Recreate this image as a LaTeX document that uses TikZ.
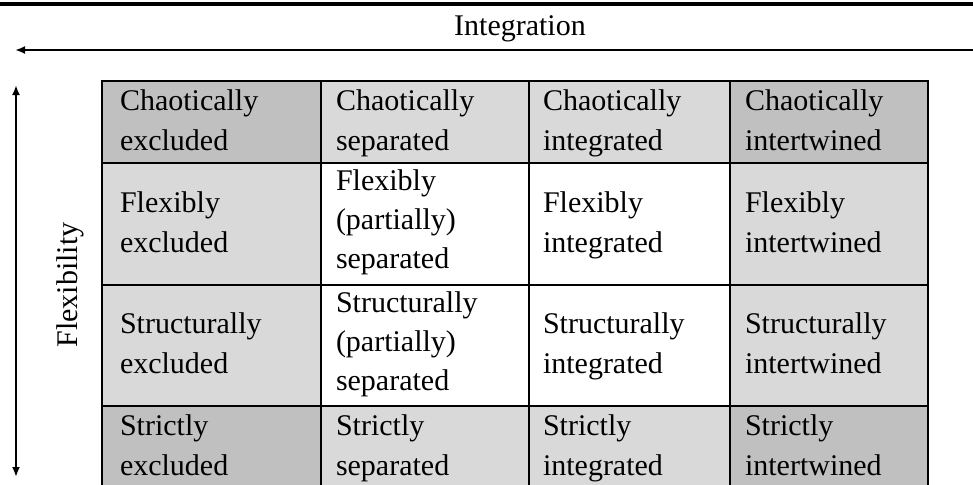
\documentclass[tikz,border=0pt]{standalone}
\usepackage{fontspec}
\setmainfont{Liberation Serif}
\usetikzlibrary{arrows.meta}
\definecolor{cellgray}{HTML}{D9D9D9}
\definecolor{cornergray}{HTML}{C0C0C0}
\newcommand{\cellfont}{\fontsize{15}{20}\selectfont}
\tikzset{
  matrix cell/.style={draw,line width=1.1pt,anchor=north west,align=left,
    outer sep=0pt,inner ysep=0pt,font=\cellfont,
    execute at begin node=\strut,execute at end node=\strut},
  three lines/.style={font=\fontsize{15}{19.5}\selectfont,
    execute at begin node={},execute at end node={\rule[-9pt]{0pt}{9pt}}},
  col a/.style={inner xsep=9pt,text width=91.5pt},
  col b/.style={inner xsep=7.5pt,text width=89pt},
  col c/.style={inner xsep=7pt,text width=86.5pt},
  col d/.style={inner xsep=7.5pt,text width=84pt},
  row a/.style={minimum height=41pt},
  row b/.style={minimum height=61pt},
  row c/.style={minimum height=60.5pt},
  row d/.style={minimum height=41pt},
  axis arrow/.style={line width=1.1pt,-{Latex[length=5pt,width=4pt]}},
  axis label/.style={font=\fontsize{15}{18}\selectfont,inner sep=0pt,anchor=base}
}

\begin{document}
\begin{tikzpicture}[x=0.5pt,y=-0.5pt]
  \useasboundingbox (0,0) rectangle (973,484);
  \coordinate (rule w) at (0,4);
  \coordinate (rule e) at (973,4);
  \coordinate (int e)  at (980,50);
  \coordinate (int w)  at (15,50);
  \coordinate (flex n) at (16,85);
  \coordinate (flex s) at (16,477);

  \draw[line width=1.8pt] (rule w) -- (rule e);
  \node[axis label] (integration) at (520,35) {Integration};
  \draw[axis arrow] (int e) -- (int w);
  \draw[axis arrow,{Latex[length=5pt,width=4pt]}-{Latex[length=5pt,width=4pt]}] (flex n) -- (flex s);
  \node[axis label,rotate=90] (flexibility) at (77,285) {Flexibility};

  % row: chaotically
  \node[matrix cell,col a,row a,fill=cornergray] (chaotic1) at (102,81)  {Chaotically\\excluded};
  \node[matrix cell,col b,row a,fill=cellgray]   (chaotic2) at (321,81)  {Chaotically\\separated};
  \node[matrix cell,col c,row a,fill=cellgray]   (chaotic3) at (529,81)  {Chaotically\\integrated};
  \node[matrix cell,col d,row a,fill=cornergray] (chaotic4) at (730,81)  {Chaotically\\intertwined};
  % row: flexibly
  \node[matrix cell,col a,row b,fill=cellgray]   (flexible1) at (102,163) {Flexibly\\excluded};
  \node[matrix cell,col b,row b,three lines,fill=white] (flexible2) at (321,163) {Flexibly\\(partially)\\separated};
  \node[matrix cell,col c,row b,fill=white]      (flexible3) at (529,163) {Flexibly\\integrated};
  \node[matrix cell,col d,row b,fill=cellgray]   (flexible4) at (730,163) {Flexibly\\intertwined};
  % row: structurally
  \node[matrix cell,col a,row c,fill=cellgray]   (structural1) at (102,285) {Structurally\\excluded};
  \node[matrix cell,col b,row c,three lines,fill=white] (structural2) at (321,285) {Structurally\\(partially)\\separated};
  \node[matrix cell,col c,row c,fill=white]      (structural3) at (529,285) {Structurally\\integrated};
  \node[matrix cell,col d,row c,fill=cellgray]   (structural4) at (730,285) {Structurally\\intertwined};
  % row: strictly
  \node[matrix cell,col a,row d,fill=cornergray] (strict1) at (102,406) {Strictly\\excluded};
  \node[matrix cell,col b,row d,fill=cellgray]   (strict2) at (321,406) {Strictly\\separated};
  \node[matrix cell,col c,row d,fill=cellgray]   (strict3) at (529,406) {Strictly\\integrated};
  \node[matrix cell,col d,row d,fill=cornergray] (strict4) at (730,406) {Strictly\\intertwined};
\end{tikzpicture}
\end{document}
